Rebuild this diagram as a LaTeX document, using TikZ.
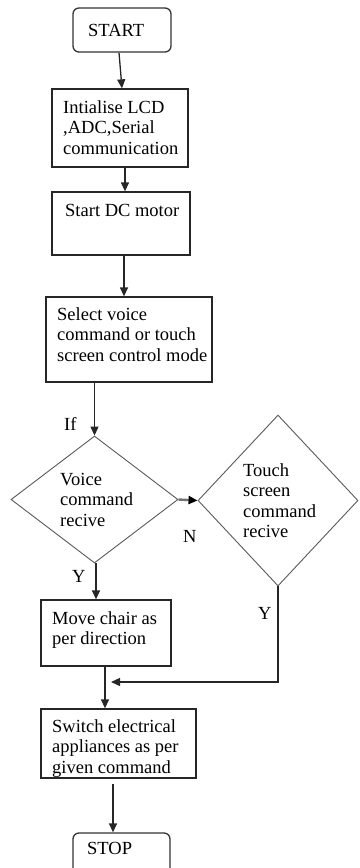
\documentclass[tikz,border=0pt]{standalone}
\usepackage{fontspec}
\setmainfont{Liberation Serif}
\usetikzlibrary{arrows.meta,shapes.geometric}
\begin{document}
\begin{tikzpicture}[x=1pt,y=-1pt,
  boxnode/.style={draw=black!85, line width=1.3pt, rectangle, inner sep=0pt},
  termnode/.style={draw=black!80, line width=1.3pt, rectangle, rounded corners=6pt, inner sep=0pt},
  decnode/.style={draw=black!65, line width=0.9pt, diamond, inner sep=0pt},
  txt/.style={anchor=north west, inner sep=0pt, align=left, font=\fontsize{18.5}{20.5}\selectfont},
  lbl/.style={anchor=north west, inner sep=0pt, font=\fontsize{18.5}{20.5}\selectfont},
  arr/.style={draw=black!85, line width=1.3pt, -{Triangle[width=8pt,length=9pt]}},
  thickarr/.style={draw=black!55, line width=2.4pt, -{Triangle[width=8pt,length=9pt,color=black]}}
]
\useasboundingbox (0,0) rectangle (359,868);
\clip (0,0) rectangle (359,868);

% shapes
\node[termnode, minimum width=98pt, minimum height=44pt] (start) at (122,30) {};
\node[boxnode, minimum width=136pt, minimum height=78pt] (init) at (120,128) {};
\node[boxnode, minimum width=138pt, minimum height=63pt] (dc) at (121,223.5) {};
\node[boxnode, minimum width=166pt, minimum height=85pt] (sel) at (129,339.5) {};
\node[decnode, minimum width=167pt, minimum height=127pt] (voice) at (94.5,499.5) {};
\node[decnode, minimum width=160pt, minimum height=171pt] (touch) at (278,500.5) {};
\node[boxnode, minimum width=130pt, minimum height=66pt] (move) at (106,633) {};
\node[boxnode, minimum width=155pt, minimum height=69pt] (sw) at (118.5,743.5) {};
\node[termnode, minimum width=97pt, minimum height=44pt] (stop) at (121.5,855) {};

% texts
\node[lbl] (tstart) at (88,24) {START};
\node[txt] (tinit) at (63,100) {Intialise LCD\\,ADC,Serial\\communication};
\node[lbl] (tdc) at (65,204) {Start DC motor};
\node[txt] (tsel) at (57,307) {Select voice\\command or touch\\screen control mode};
\node[txt] (tvoice) at (60,473) {Voice\\command\\recive};
\node[txt] (ttouch) at (243,463) {Touch\\screen\\command\\recive};
\node[txt] (tmove) at (52,611) {Move chair as\\per direction};
\node[txt] (tsw) at (52,719) {Switch electrical\\appliances as per\\given command};
\node[lbl] (tstop) at (87,842) {STOP};

% labels
\node[lbl] (lif) at (64,417) {If};
\node[lbl] (ln) at (183,530) {N};
\node[lbl] (ly1) at (72,570) {Y};
\node[lbl] (ly2) at (258,607) {Y};

% connectors
\coordinate (join) at (111,682);
\draw[arr] ([xshift=-3pt]start.south) -- ([xshift=2pt]init.north);
\draw[arr] ([xshift=5pt]init.south) -- ([xshift=4pt]dc.north);
\draw[arr] ([xshift=3pt]dc.south) -- ([xshift=3pt]dc.south |- sel.north);
\draw[arr] (sel.south -| voice.north) -- (voice.north);
\draw[thickarr] (voice.east) -- (touch.west);
\draw[arr] ([xshift=1.5pt]voice.south) -- ([xshift=1.5pt]voice.south |- move.north);
\draw[arr] (touch.south) |- (join);
\draw[arr] ([xshift=-1pt]move.south) -- ([xshift=-1pt]move.south |- sw.north);
\draw[arr] ([xshift=-5.5pt,yshift=-5pt]sw.south) -- ([xshift=-5.5pt]sw.south |- stop.north);
\end{tikzpicture}
\end{document}
